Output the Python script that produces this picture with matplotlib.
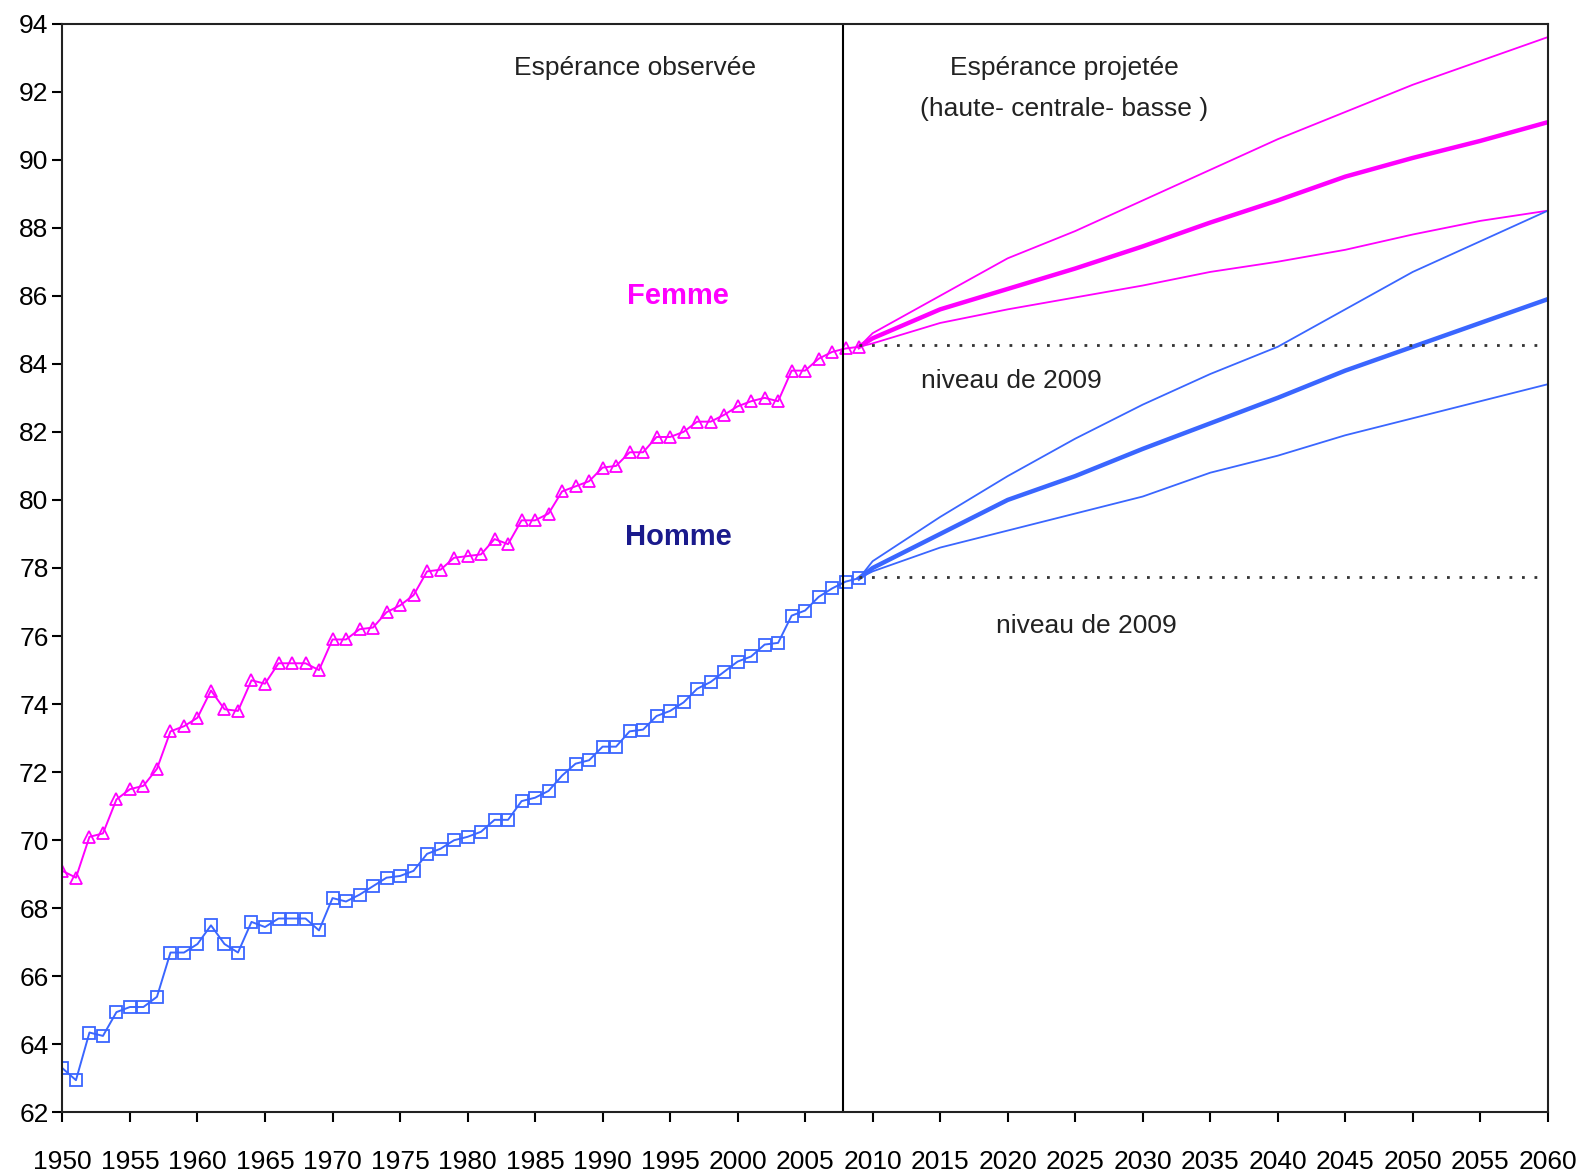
import matplotlib
matplotlib.use("Agg")
import matplotlib.pyplot as plt
from matplotlib import font_manager

names = {f.name for f in font_manager.fontManager.ttflist}
narrow = [n for n in ["Liberation Sans Narrow", "Liberation Sans", "DejaVu Sans"] if n in names]
plt.rcParams["font.family"] = narrow

# observed life expectancy at birth, 1950-2009
years_obs = list(range(1950, 2010))
femme_obs = [69.1, 68.9, 70.1, 70.2, 71.2, 71.5, 71.6, 72.1, 73.2, 73.35,
             73.6, 74.4, 73.85, 73.8, 74.7, 74.6, 75.2, 75.2, 75.2, 75.0,
             75.9, 75.9, 76.2, 76.25, 76.7, 76.9, 77.2, 77.9, 77.95, 78.3,
             78.35, 78.4, 78.85, 78.7, 79.4, 79.4, 79.6, 80.25, 80.4, 80.55,
             80.95, 81.0, 81.4, 81.4, 81.85, 81.85, 82.0, 82.3, 82.3, 82.5,
             82.75, 82.9, 83.0, 82.9, 83.8, 83.8, 84.15, 84.35, 84.45, 84.5]
homme_obs = [63.3, 62.95, 64.35, 64.25, 64.95, 65.1, 65.1, 65.4, 66.7, 66.7,
             66.95, 67.5, 66.95, 66.7, 67.6, 67.45, 67.7, 67.7, 67.7, 67.35,
             68.3, 68.2, 68.4, 68.65, 68.9, 68.95, 69.1, 69.6, 69.75, 70.0,
             70.1, 70.25, 70.6, 70.6, 71.15, 71.25, 71.45, 71.9, 72.25, 72.35,
             72.75, 72.75, 73.2, 73.25, 73.65, 73.8, 74.05, 74.45, 74.65, 74.95,
             75.25, 75.4, 75.75, 75.8, 76.6, 76.75, 77.15, 77.4, 77.6, 77.7]

# projections (haute / centrale / basse)
years_proj = [2009, 2010, 2015, 2020, 2025, 2030, 2035, 2040, 2045, 2050, 2055, 2060]
femme_haute = [84.5, 84.9, 86.0, 87.1, 87.9, 88.8, 89.7, 90.6, 91.4, 92.2, 92.9, 93.6]
femme_centrale = [84.5, 84.75, 85.6, 86.2, 86.8, 87.45, 88.15, 88.8, 89.5, 90.05, 90.55, 91.1]
femme_basse = [84.5, 84.6, 85.2, 85.6, 85.95, 86.3, 86.7, 87.0, 87.35, 87.8, 88.2, 88.5]
homme_haute = [77.7, 78.2, 79.5, 80.7, 81.8, 82.8, 83.7, 84.5, 85.6, 86.7, 87.6, 88.5]
homme_centrale = [77.7, 78.0, 79.0, 80.0, 80.7, 81.5, 82.25, 83.0, 83.8, 84.5, 85.2, 85.9]
homme_basse = [77.7, 77.9, 78.6, 79.1, 79.6, 80.1, 80.8, 81.3, 81.9, 82.4, 82.9, 83.4]

niveau_femme_2009 = 84.55
niveau_homme_2009 = 77.75

pink = "#ff00ff"
blue = "#3a66ff"

fig = plt.figure(figsize=(15.81, 11.75), dpi=100)
ax = fig.add_axes([0.0395, 0.0532, 0.9395, 0.9268])

ax.plot(years_obs, femme_obs, color=pink, lw=1.4, marker="^", ms=8,
        mfc="none", mec=pink, mew=1.3)
ax.plot(years_obs, homme_obs, color=blue, lw=1.4, marker="s", ms=8,
        mfc="none", mec=blue, mew=1.3)

for vals, lw in [(femme_haute, 1.3), (femme_centrale, 3.2), (femme_basse, 1.3)]:
    ax.plot(years_proj, vals, color=pink, lw=lw)
for vals, lw in [(homme_haute, 1.3), (homme_centrale, 3.2), (homme_basse, 1.3)]:
    ax.plot(years_proj, vals, color=blue, lw=lw)

ax.plot([2009, 2059.5], [niveau_femme_2009] * 2, color="#333333", lw=2, ls=(0, (1, 3.5)))
ax.plot([2009, 2059.5], [niveau_homme_2009] * 2, color="#333333", lw=2, ls=(0, (1, 3.5)))

ax.axvline(2007.8, color="black", lw=1.5)

txt = dict(fontsize=19, color="#222222", ha="center", va="center")
ax.text(1992.4, 92.7, "Espérance observée", **txt)
ax.text(2024.2, 92.7, "Espérance projetée", **txt)
ax.text(2024.2, 91.5, "(haute- centrale- basse )", **txt)
ax.text(2020.3, 83.5, "niveau de 2009", **txt)
ax.text(2025.8, 76.3, "niveau de 2009", **txt)
ax.text(1995.6, 86.0, "Femme", fontsize=21, fontweight="bold", color=pink,
        ha="center", va="center")
ax.text(1995.6, 78.9, "Homme", fontsize=21, fontweight="bold", color="#1a1a8c",
        ha="center", va="center")

ax.set_xlim(1950, 2060)
ax.set_ylim(62, 94)
ax.set_xticks(range(1950, 2061, 5))
ax.set_yticks(range(62, 95, 2))
ax.tick_params(axis="both", direction="out", length=7, width=1.5, labelsize=19)
ax.tick_params(axis="x", pad=20)
ax.tick_params(axis="y", pad=3)
for s in ax.spines.values():
    s.set_linewidth(1.5)
    s.set_color("#222222")

fig.savefig("out.png", dpi=100)
